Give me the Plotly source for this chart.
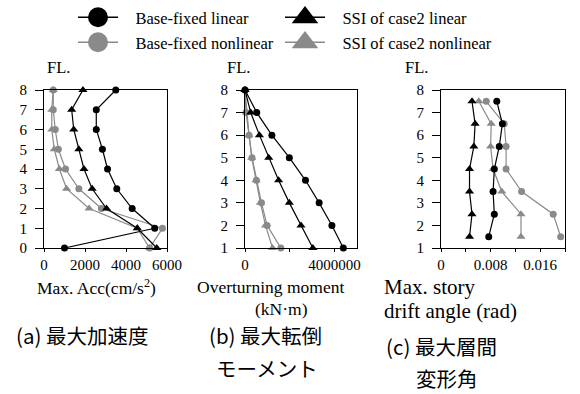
import plotly.graph_objects as go

# ---------------- data ----------------
floors_acc = [0, 1, 2, 3, 4, 5, 6, 7, 8]
acc_bf_lin = [1000, 5400, 4300, 3550, 3100, 2850, 2550, 2550, 3500]
acc_ssi_lin = [5500, 4550, 3050, 2350, 1950, 1700, 1450, 1350, 1900]
acc_bf_non = [5150, 5780, 2800, 1700, 1050, 700, 550, 450, 450]
acc_ssi_non = [5150, 4550, 2200, 1100, 750, 500, 380, 380, 450]

floors_mom = [1, 2, 3, 4, 5, 6, 7, 8]
mom_bf_lin = [4390000, 3880000, 3310000, 2700000, 1980000, 1200000, 524000, 0]
mom_ssi_lin = [3030000, 2500000, 1980000, 1500000, 1060000, 644000, 255000, 0]
mom_bf_non = [1600000, 989000, 734000, 509000, 315000, 180000, 45000, 0]
mom_ssi_non = [1230000, 914000, 689000, 494000, 300000, 180000, 75000, 0]

story_mid = [1.5, 2.5, 3.5, 4.5, 5.5, 6.5, 7.5]
drift_bf_lin = [0.0077, 0.0086, 0.0084, 0.0086, 0.0094, 0.0099, 0.0090]
drift_ssi_lin = [0.0046, 0.0050, 0.0046, 0.0046, 0.0053, 0.0055, 0.0050]
drift_bf_non = [0.0193, 0.0181, 0.0130, 0.0105, 0.0105, 0.0102, 0.0073]
drift_ssi_non = [0.0129, 0.0129, 0.0098, 0.0084, 0.0080, 0.0081, 0.0061]

series_names = ["Base-fixed linear", "Base-fixed nonlinear",
                "SSI of case2 linear", "SSI of case2 nonlinear"]

acc_ticks = [0, 2000, 4000, 6000]
mom_ticks = [0, 4000000]
mom_minor_step = 2000000
drift_ticks = [0, 0.008, 0.016]
drift_minor_step = 0.004

# ---------------- style ----------------
BLACK = "#000000"
GRAY = "#8a8a8a"
SERIF = "Liberation Serif"
CJK = "Noto Sans CJK JP"
W, H = 580, 394

styles = {
    "Base-fixed linear": dict(color=BLACK, symbol="circle"),
    "Base-fixed nonlinear": dict(color=GRAY, symbol="circle"),
    "SSI of case2 linear": dict(color=BLACK, symbol="triangle-up"),
    "SSI of case2 nonlinear": dict(color=GRAY, symbol="triangle-up"),
}

fig = go.Figure()

panels = [
    ("x", "y", floors_acc, {"Base-fixed linear": acc_bf_lin, "Base-fixed nonlinear": acc_bf_non,
                            "SSI of case2 linear": acc_ssi_lin, "SSI of case2 nonlinear": acc_ssi_non}),
    ("x2", "y2", floors_mom, {"Base-fixed linear": mom_bf_lin, "Base-fixed nonlinear": mom_bf_non,
                              "SSI of case2 linear": mom_ssi_lin, "SSI of case2 nonlinear": mom_ssi_non}),
    ("x3", "y3", story_mid, {"Base-fixed linear": drift_bf_lin, "Base-fixed nonlinear": drift_bf_non,
                             "SSI of case2 linear": drift_ssi_lin, "SSI of case2 nonlinear": drift_ssi_non}),
]

draw_order = ["Base-fixed nonlinear", "SSI of case2 nonlinear", "Base-fixed linear", "SSI of case2 linear"]
for xa, ya, ys, data in panels:
    for name in draw_order:
        st = styles[name]
        fig.add_trace(go.Scatter(
            x=data[name], y=ys, xaxis=xa, yaxis=ya, mode="lines+markers",
            line=dict(color=st["color"], width=1.2),
            marker=dict(color=st["color"], symbol=st["symbol"], size=7 if st["symbol"] == "circle" else 8),
            showlegend=False, cliponaxis=False))

# legend entries (one legend per entry for exact placement)
ITEMW = 40
PAD = "\u00a0\u00a0\u00a0"
legend_pos = {
    "Base-fixed linear": ("legend", 98, 17.5),
    "Base-fixed nonlinear": ("legend2", 98, 42.5),
    "SSI of case2 linear": ("legend3", 305, 17.5),
    "SSI of case2 nonlinear": ("legend4", 305, 42.5),
}
for name in series_names:
    st = styles[name]
    lg = legend_pos[name][0]
    fig.add_trace(go.Scatter(
        x=[None], y=[None], name=PAD + name, legend=lg, mode="lines+markers",
        line=dict(color=st["color"], width=1.5),
        marker=dict(color=st["color"], symbol=st["symbol"], size=16,
                    line=dict(color=st["color"], width=4)),
        showlegend=True))

legend_common = dict(font=dict(family=SERIF, size=16.5, color=BLACK), bgcolor="rgba(0,0,0,0)",
                     borderwidth=0, itemwidth=ITEMW, xanchor="left", yanchor="middle",
                     itemclick=False, itemdoubleclick=False)
layout_legends = {}
for name, (lg, cx, cy) in legend_pos.items():
    layout_legends[lg] = dict(legend_common, x=(cx - ITEMW / 2 - 5) / W, y=1 - cy / H)

ydom = [1 - 248 / H, 1 - 90 / H]
axis_common = dict(showline=True, linecolor=BLACK, linewidth=1, mirror=True,
                   showgrid=False, zeroline=False, ticks="outside", tickcolor=BLACK,
                   tickfont=dict(family=SERIF, size=15, color=BLACK))
minor_x = dict(ticks="outside", ticklen=3, tickcolor=BLACK, showgrid=False)

fig.update_layout(
    width=W, height=H, margin=dict(l=0, r=0, t=0, b=0, autoexpand=False),
    paper_bgcolor="white", plot_bgcolor="white", showlegend=True, hovermode=False,
    xaxis=dict(axis_common, domain=[44 / W, 167 / W], range=[0, 6000], tickvals=acc_ticks,
               ticklen=3, anchor="y"),
    yaxis=dict(axis_common, domain=ydom, range=[0, 8], dtick=1, ticklen=8, anchor="x",
               ticklabelstandoff=5),
    xaxis2=dict(axis_common, domain=[245 / W, 357 / W], range=[0, 5000000], tickvals=mom_ticks,
                tickformat="d", ticklen=3, anchor="y2", minor=dict(minor_x, dtick=mom_minor_step)),
    yaxis2=dict(axis_common, domain=ydom, range=[1, 8], dtick=1, ticklen=8, anchor="x2",
                ticklabelstandoff=5),
    xaxis3=dict(axis_common, domain=[441 / W, 565 / W], range=[0, 0.02], tickvals=drift_ticks,
                ticklen=3, anchor="y3", minor=dict(minor_x, dtick=drift_minor_step)),
    yaxis3=dict(axis_common, domain=ydom, range=[1, 8], dtick=1, ticklen=8, anchor="x3",
                ticklabelstandoff=5),
    **layout_legends,
)

def ann(text, x, y, size, family, xanchor="center"):
    fig.add_annotation(text=text, x=x / W, y=1 - y / H, xref="paper", yref="paper",
                       xanchor=xanchor, yanchor="middle", showarrow=False, borderpad=0,
                       font=dict(family=family, size=size, color=BLACK))

# FL. labels
for fx in (58, 238, 416):
    ann("FL.", fx, 68, 16.5, SERIF)

# axis titles
ann("Max. Acc(cm/s<sup>2</sup>)", 96, 287, 17.5, SERIF)
ann("Overturning moment", 270, 287, 17.5, SERIF)
ann("(kN·m)", 281, 309, 17.5, SERIF)
ann("Max. story", 383, 287, 21, SERIF, xanchor="left")
ann("drift angle (rad)", 383, 311, 21, SERIF, xanchor="left")

# captions
ann("(a) 最大加速度", 82, 335, 20.5, CJK)
ann("(b) 最大転倒", 265, 335, 20.5, CJK)
ann("モーメント", 267, 368, 20.5, CJK)
ann("(c) 最大層間", 441, 346, 20.5, CJK)
ann("変形角", 447, 378, 20.5, CJK)

fig.write_html("out.html", config={"displayModeBar": False},
               post_script="document.body.style.margin='0';document.body.style.overflow='hidden';")
